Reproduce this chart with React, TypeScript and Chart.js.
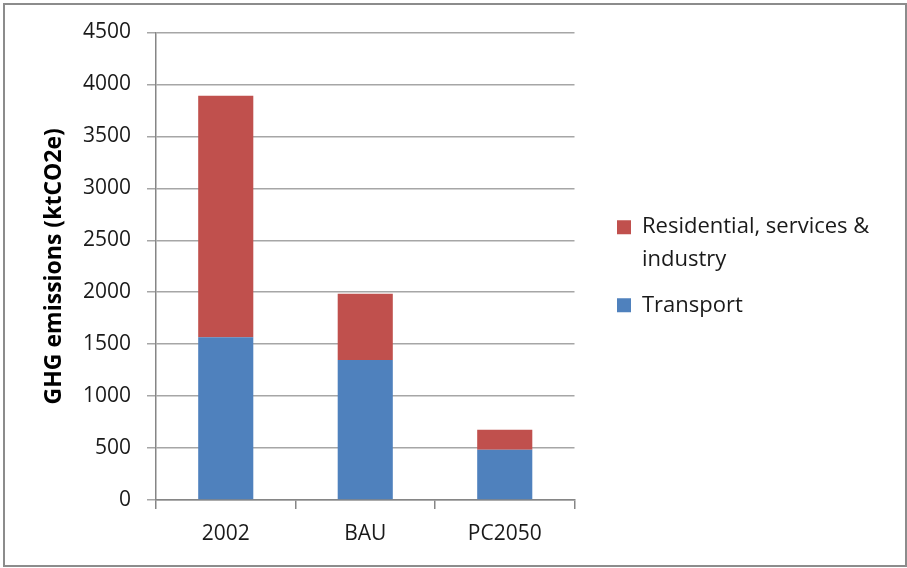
import React, { useEffect, useRef } from 'react';
import { Chart, registerables } from 'chart.js';

Chart.register(...registerables);

// ---- data ----
const categories = ['2002', 'BAU', 'PC2050'];
const transport = [1566, 1347, 484];
const residential = [2325, 639, 193];
const transportName = 'Transport';
const residentialName = 'Residential, services & industry';
const residentialLegendLines = ['Residential, services &', 'industry'];
const yMin = 0;
const yMax = 4500;
const yStep = 500;
const yTitle = 'GHG emissions (ktCO2e)';

const FONT = '"Open Sans"';
const TEXT = '#1a1a1a';

export default function App() {
  const ref = useRef<HTMLCanvasElement>(null);

  useEffect(() => {
    const legendWidthPlugin = {
      id: 'legendWidth',
      afterInit(chart: any) {
        const lg = chart.legend;
        if (lg && !lg.__patched) {
          const orig = lg.fit.bind(lg);
          lg.fit = () => {
            orig();
            lg.width = 303;
          };
          lg.__patched = true;
        }
      },
    };

    const chart = new Chart(ref.current as HTMLCanvasElement, {
      type: 'bar',
      data: {
        labels: categories,
        datasets: [
          {
            label: transportName,
            data: transport,
            backgroundColor: '#4F81BD',
            borderWidth: 0,
            barPercentage: 1,
            categoryPercentage: 0.395,
          },
          {
            label: residentialName,
            data: residential,
            backgroundColor: '#C0504D',
            borderWidth: 0,
            barPercentage: 1,
            categoryPercentage: 0.395,
          },
        ],
      },
      options: {
        responsive: false,
        animation: false,
        devicePixelRatio: 1,
        layout: { padding: { top: 32.5, left: 0, right: 0, bottom: 0 } },
        plugins: {
          tooltip: { enabled: false },
          legend: {
            position: 'right',
            fullSize: false,
            reverse: true,
            align: 'center',
            labels: {
              boxWidth: 14,
              boxHeight: 14,
              padding: 13,
              color: TEXT,
              font: { family: FONT, size: 22, lineHeight: 1.48 },
              generateLabels: (c: any) => {
                const items = (Chart as any).defaults.plugins.legend.labels.generateLabels(c);
                return items.map((it: any) => ({
                  ...it,
                  lineWidth: 0,
                  text: it.text === residentialName ? residentialLegendLines : it.text,
                }));
              },
            },
          },
        },
        scales: {
          x: {
            stacked: true,
            grid: {
              display: true,
              drawOnChartArea: false,
              drawTicks: true,
              tickLength: 9,
              offset: true,
              color: '#868686',
              lineWidth: 1.5,
            },
            border: { display: true, color: '#868686', width: 1.5 },
            ticks: { color: TEXT, font: { family: FONT, size: 21 }, padding: 12 },
            afterFit: (s: any) => {
              s.height = 68;
            },
          },
          y: {
            stacked: true,
            min: yMin,
            max: yMax,
            ticks: {
              stepSize: yStep,
              color: TEXT,
              font: { family: FONT, size: 21 },
              padding: 16,
              callback: (v: any) => String(v),
            },
            grid: { color: '#a6a6a6', lineWidth: 1.5, tickLength: 9, drawTicks: true },
            border: { display: true, color: '#868686', width: 1.5 },
            title: {
              display: true,
              text: yTitle,
              color: '#000',
              font: { family: FONT, size: 23, weight: 'bold' },
              padding: { top: 41, bottom: 0 },
            },
            afterFit: (s: any) => {
              s.width = 156;
            },
          },
          y2: {
            type: 'linear',
            position: 'right',
            display: true,
            grid: { display: false },
            ticks: { display: false },
            border: { display: false },
            afterFit: (s: any) => {
              s.width = 29.5;
            },
          },
        },
      } as any,
      plugins: [legendWidthPlugin],
    });
    return () => chart.destroy();
  }, []);

  return (
    <div style={{ position: 'absolute', left: 0, top: 0, width: 907, height: 568, background: '#fff' }}>
      <canvas ref={ref} width={907} height={568} style={{ display: 'block' }} />
      <div
        style={{
          position: 'absolute',
          left: 3,
          top: 3,
          width: 900,
          height: 560,
          border: '2px solid #8c8c8c',
          pointerEvents: 'none',
        }}
      />
    </div>
  );
}
